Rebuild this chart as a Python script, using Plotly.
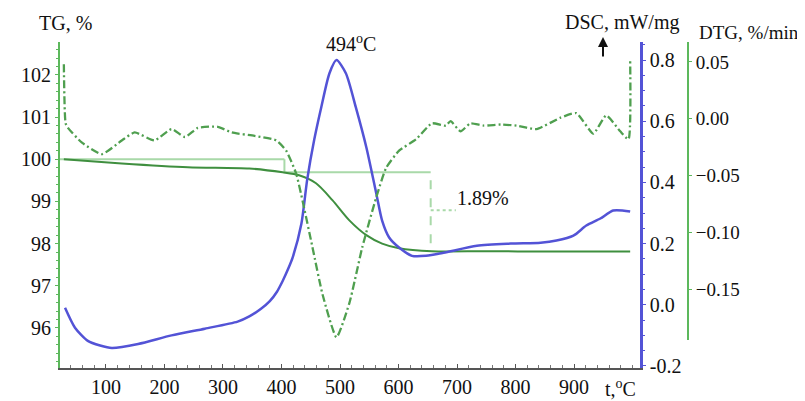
import plotly.graph_objects as go

# ---- data ----
dsc_t = [30, 47, 69, 90, 110, 155, 212, 269, 325, 345, 365, 380, 392, 402, 412, 419, 434, 444, 456,
         468, 482, 494, 510, 527, 545, 562, 572, 584, 601, 623, 647, 677, 734, 792, 843, 870, 899,
         921, 945, 967, 996]
dsc_v = [-0.01, -0.075, -0.118, -0.133, -0.141, -0.128, -0.10, -0.078, -0.055, -0.038, -0.013, 0.012,
         0.042, 0.078, 0.12, 0.154, 0.265, 0.41, 0.54, 0.646, 0.757, 0.80, 0.757, 0.646, 0.515, 0.364,
         0.275, 0.22, 0.187, 0.16, 0.16, 0.17, 0.193, 0.20, 0.203, 0.21, 0.226, 0.259, 0.282, 0.308,
         0.305]

tg_t = [28, 127, 240, 345, 402, 430, 459, 487, 516, 545, 572, 601, 657, 750, 850, 996]
tg_v = [100.0, 99.9, 99.81, 99.78, 99.69, 99.62, 99.43, 99.03, 98.55, 98.2, 98.0, 97.89, 97.82,
        97.82, 97.81, 97.81]

dtg_t = [28, 31, 35, 59, 93, 127, 149, 183, 212, 235, 257, 291, 315, 354, 391, 408, 425, 436, 453,
         470, 494, 516, 538, 562, 579, 601, 630, 657, 681, 689, 706, 723, 746, 775, 802, 836, 877,
         904, 933, 955, 979, 993, 996]
dtg_v = [0.048, -0.004, -0.008, -0.021, -0.031, -0.019, -0.012, -0.019, -0.009, -0.016, -0.008,
         -0.007, -0.012, -0.015, -0.019, -0.028, -0.048, -0.072, -0.113, -0.154, -0.192, -0.162,
         -0.113, -0.069, -0.043, -0.028, -0.018, -0.004, -0.006, -0.002, -0.011, -0.004, -0.006,
         -0.005, -0.006, -0.009, 0.001, 0.005, -0.013, 0.003, -0.011, -0.018, 0.051]

x_ticks = [100, 200, 300, 400, 500, 600, 700, 800, 900]
tg_ticks = [96, 97, 98, 99, 100, 101, 102]
dsc_ticks = [-0.2, 0.0, 0.2, 0.4, 0.6, 0.8]
dsc_ticktext = ["-0.2", "0.0", "0.2", "0.4", "0.6", "0.8"]
dtg_ticks = [-0.15, -0.10, -0.05, 0.00, 0.05]
dtg_ticktext = ["\u22120.15", "\u22120.10", "\u22120.05", "0.00", "0.05"]

peak_t = 494
tg_start_ref = 100.0
tg_onset = 99.69
tg_end = 97.80
step_t = 405
mark_t = 655
loss_label = "1.89%"

# ---- styles ----
FONT = "Liberation Serif"
BLUE = "#5353d6"
GREEN_TG = "#3f8f3f"
GREEN_DTG = "#4f9f4f"
GREEN_AX = "#5cb85c"
GREEN_GUIDE = "#a9d9a9"

# page has an 8px body margin, so the figure is drawn 8px smaller and offset
OFF = 8
W, H = 805 - OFF, 401 - OFF
PL, PR, PT, PB = 60 - OFF, 688 - OFF, 42 - OFF, 368 - OFF   # plot area in figure px
PW, PH = PR - PL, PB - PT


def px_x(px):
    return (px - OFF - PL) / PW


def px_y(py):
    return (PB - (py - OFF)) / PH


fig = go.Figure()

fig.add_trace(go.Scatter(x=tg_t, y=tg_v, mode="lines", yaxis="y",
                         line=dict(color=GREEN_TG, width=2, shape="spline", smoothing=0.8),
                         showlegend=False))
fig.add_trace(go.Scatter(x=dtg_t, y=dtg_v, mode="lines", yaxis="y3",
                         line=dict(color=GREEN_DTG, width=2.3, dash="8px,3px,2px,3px",
                                   shape="spline", smoothing=0.5),
                         showlegend=False))
fig.add_trace(go.Scatter(x=dsc_t, y=dsc_v, mode="lines", yaxis="y2",
                         line=dict(color=BLUE, width=2.5, shape="spline", smoothing=0.7),
                         showlegend=False))

# guide lines for mass loss
guides = [
    dict(x0=21.4, x1=step_t, y0=tg_start_ref, y1=tg_start_ref, dash="solid"),
    dict(x0=step_t, x1=step_t, y0=tg_start_ref, y1=tg_onset, dash="solid"),
    dict(x0=step_t, x1=mark_t, y0=tg_onset, y1=tg_onset, dash="solid"),
    dict(x0=mark_t, x1=mark_t, y0=99.5, y1=tg_end + 0.2, dash="dash"),
    dict(x0=mark_t, x1=mark_t + 43, y0=98.79, y1=98.79, dash="dot"),
]
for g in guides:
    fig.add_shape(type="line", xref="x", yref="y", x0=g["x0"], x1=g["x1"], y0=g["y0"], y1=g["y1"],
                  line=dict(color=GREEN_GUIDE, width=2, dash=g["dash"]), layer="below")

# DTG axis line (shorter than plot height)
fig.add_shape(type="line", xref="paper", yref="paper", x0=1.0, x1=1.0, y0=px_y(340), y1=1.0,
              line=dict(color=GREEN_AX, width=2))

ann_font = dict(family=FONT, size=20, color="#111")
fig.add_annotation(xref="paper", yref="paper", x=px_x(65), y=px_y(23), text="TG, %", showarrow=False,
                   font=ann_font, xanchor="center", yanchor="middle")
fig.add_annotation(xref="paper", yref="paper", x=px_x(622), y=px_y(23), text="DSC, mW/mg",
                   showarrow=False, font=ann_font, xanchor="center", yanchor="middle")
fig.add_annotation(xref="paper", yref="paper", x=px_x(801), y=px_y(33), text="DTG, %/min",
                   showarrow=False, font=dict(family=FONT, size=19, color="#111"),
                   xanchor="right", yanchor="middle")
fig.add_annotation(xref="paper", yref="paper", x=px_x(603), y=px_y(37), ax=0, ay=21,
                   text="", showarrow=True, arrowhead=2, arrowsize=1, arrowwidth=2, arrowcolor="#111")
fig.add_annotation(xref="paper", yref="paper", x=px_x(620), y=px_y(388), text="t,<sup>o</sup>C",
                   showarrow=False, font=ann_font, xanchor="center", yanchor="middle")
fig.add_annotation(xref="x", yref="paper", x=peak_t + 25, y=px_y(43), text="494<sup>o</sup>C",
                   showarrow=False, font=ann_font, xanchor="center", yanchor="middle")
fig.add_annotation(xref="x", yref="y", x=745, y=99.08, text=loss_label, showarrow=False,
                   font=ann_font, xanchor="center", yanchor="middle")

tick_font = dict(family=FONT, size=20, color="#111")

fig.update_layout(
    width=W, height=H,
    margin=dict(l=PL, r=W - PR, t=PT, b=H - PB, autoexpand=False),
    paper_bgcolor="white", plot_bgcolor="white",
    font=dict(family=FONT),
    xaxis=dict(domain=[0, (640 - 60) / PW], range=[21.4, 1012.8], tickvals=x_ticks, automargin=False,
               showgrid=False, zeroline=False, showline=True, linecolor="#555", linewidth=2,
               ticks="inside", ticklen=4, tickcolor="#555", tickfont=tick_font,
               minor=dict(dtick=20, tick0=0, ticks="inside", ticklen=3, tickcolor="#777")),
    yaxis=dict(range=[95.05, 102.78], tickvals=tg_ticks, showgrid=False, zeroline=False,
               automargin=False,
               showline=True, linecolor=GREEN_AX, linewidth=2, ticks="outside", ticklen=3,
               tickcolor=GREEN_AX, tickfont=tick_font,
               minor=dict(dtick=0.2, tick0=0, ticks="outside", ticklen=2, tickcolor=GREEN_AX)),
    yaxis2=dict(range=[-0.2066, 0.859], tickvals=dsc_ticks, ticktext=dsc_ticktext, automargin=False,
                overlaying="y", side="right", anchor="x", showgrid=False, zeroline=False,
                showline=True, linecolor=BLUE, linewidth=2.5, ticks="outside", ticklen=3,
                tickcolor=BLUE, tickfont=tick_font,
                minor=dict(dtick=0.05, tick0=0, ticks="outside", ticklen=2, tickcolor=BLUE)),
    yaxis3=dict(range=[-0.219, 0.0675], tickvals=dtg_ticks, ticktext=dtg_ticktext, automargin=False,
                overlaying="y", side="right", anchor="free", position=1.0, showgrid=False,
                zeroline=False, showline=False, ticks="outside", ticklen=3, tickcolor=GREEN_AX,
                tickfont=dict(family=FONT, size=19, color="#111")),
)

fig.write_html("out.html")
